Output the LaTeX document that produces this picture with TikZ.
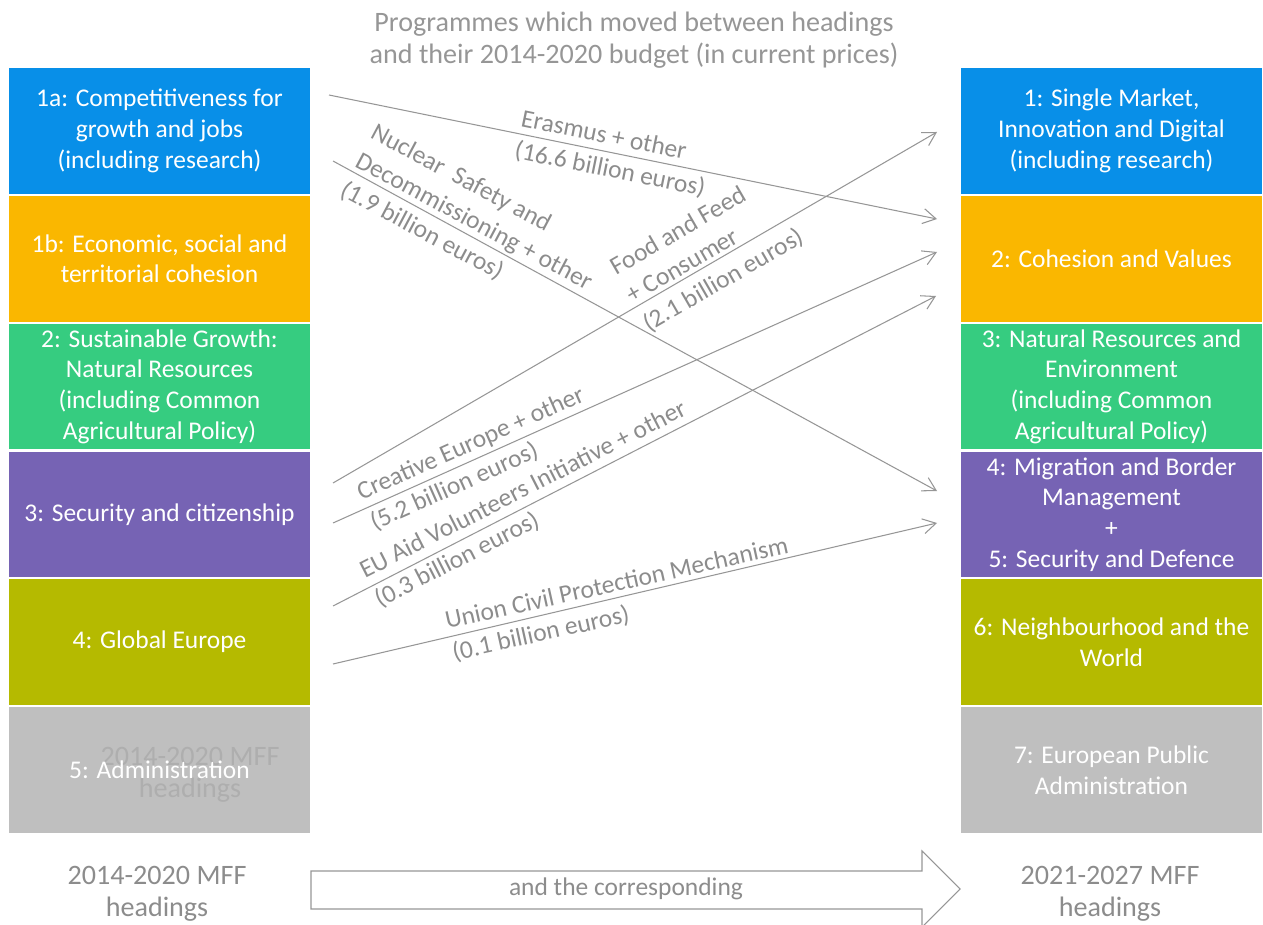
\documentclass[tikz,border=0pt]{standalone}
\usepackage{fontspec}
\setmainfont{Carlito}
\usetikzlibrary{arrows.meta,positioning}
\definecolor{hblue}{RGB}{8,143,232}
\definecolor{horange}{RGB}{250,183,0}
\definecolor{hgreen}{RGB}{54,204,128}
\definecolor{hpurple}{RGB}{118,99,180}
\definecolor{holive}{RGB}{181,186,0}
\definecolor{hgrey}{RGB}{191,191,191}
\definecolor{lgrey}{RGB}{150,150,150}
\definecolor{tgrey}{RGB}{140,140,140}
\definecolor{ghost}{RGB}{174,174,174}
\tikzset{
  heading/.style={fill=#1, draw=white, line width=.6pt, text=white,
    minimum width=6.06cm, minimum height=2.535cm, inner sep=0pt,
    align=center, font=\fontsize{14.5}{17.5}\selectfont},
  move/.style={draw=lgrey, line width=.6pt,
    -{Straight Barb[length=2.6mm,width=3mm]}},
  movelabel/.style={text=tgrey, anchor=west, inner sep=0pt, align=left,
    font=\fontsize{14.5}{18.5}\selectfont},
  caption/.style={text=tgrey, align=center, font=\fontsize{16}{18.5}\selectfont}
}

\begin{document}
\begin{tikzpicture}[x=0.02cm, y=-0.02cm]
\useasboundingbox (0,0) rectangle (1263,925);

% title
\node[caption, text=lgrey] (title) at (634,40) {Programmes which moved between headings\\and their 2014-2020 budget (in current prices)};

% 2014-2020 headings
\node[heading=hblue] (L1a) at (159.5,131) {1a: Competitiveness for\\growth and jobs\\(including research)};
\node[heading=horange, below=0pt of L1a] (L1b) {1b: Economic, social and\\territorial cohesion};
\node[heading=hgreen, below=0pt of L1b] (L2) {2: Sustainable Growth:\\Natural Resources\\(including Common\\Agricultural Policy)};
\node[heading=hpurple, below=0pt of L2] (L3) {3: Security and citizenship};
\node[heading=holive, below=0pt of L3] (L4) {4: Global Europe};
\node[heading=hgrey, below=0pt of L4] (L5) {};
\node[caption, text=ghost] (ghost) at (190,775) {2014-2020 MFF\\headings};
\node[text=white, font=\fontsize{14.5}{17.5}\selectfont] at (L5) {5: Administration};

% 2021-2027 headings
\node[heading=hblue] (R1) at (1111.5,131) {1: Single Market,\\Innovation and Digital\\(including research)};
\node[heading=horange, below=0pt of R1] (R2) {2: Cohesion and Values};
\node[heading=hgreen, below=0pt of R2] (R3) {3: Natural Resources and\\Environment\\(including Common\\Agricultural Policy)};
\node[heading=hpurple, below=0pt of R3] (R4) {4: Migration and Border\\Management\\+\\5: Security and Defence};
\node[heading=holive, below=0pt of R4] (R6) {6: Neighbourhood and the\\World};
\node[heading=hgrey, below=0pt of R6] (R7) {7: European Public\\Administration};

% moved programmes
\coordinate (erasA) at (329,95);   \coordinate (erasB) at (937,219);
\coordinate (nuclA) at (333,161);  \coordinate (nuclB) at (937,491);
\coordinate (foodA) at (333,483);  \coordinate (foodB) at (937,132);
\coordinate (creaA) at (333,523);  \coordinate (creaB) at (937,252);
\coordinate (aidA) at (333,606);   \coordinate (aidB) at (936,296);
\coordinate (civA) at (333,664);   \coordinate (civB) at (937,523);
\draw[move] (erasA) -- (erasB);
\draw[move] (nuclA) -- (nuclB);
\draw[move] (foodA) -- (foodB);
\draw[move] (creaA) -- (creaB);
\draw[move] (aidA) -- (aidB);
\draw[move] (civA) -- (civB);

\node[movelabel, rotate=-11.5] (eras) at (518,135) {Erasmus + other\\(16.6 billion euros)};
\node[movelabel, rotate=-28] (nucl) at (357,160) {Nuclear\ \ Safety and\\Decommissioning + other\\(1.9 billion euros)};
\node[movelabel, rotate=30] (food) at (629,298) {Food and Feed\\+ Consumer\\(2.1 billion euros)};
\node[movelabel, rotate=24] (crea) at (365,509) {Creative Europe + other\\(5.2 billion euros)};
\node[movelabel, rotate=27] (aid) at (369,587) {EU Aid Volunteers Initiative + other\\(0.3 billion euros)};
\node[movelabel, rotate=12.5] (civ) at (449,638) {Union Civil Protection Mechanism\\(0.1 billion euros)};

% bottom
\node[caption] (old) at (157,894) {2014-2020 MFF\\headings};
\node[caption] (new) at (1110,894) {2021-2027 MFF\\headings};
\draw[lgrey, line width=.6pt] (311,871) -- (922,871) -- (922,851) -- (960,889)
  -- (922,927) -- (922,909) -- (311,909) -- cycle;
\node[text=tgrey, font=\fontsize{14.5}{17.5}\selectfont] (corr) at (626,889) {and the corresponding};
\end{tikzpicture}
\end{document}
